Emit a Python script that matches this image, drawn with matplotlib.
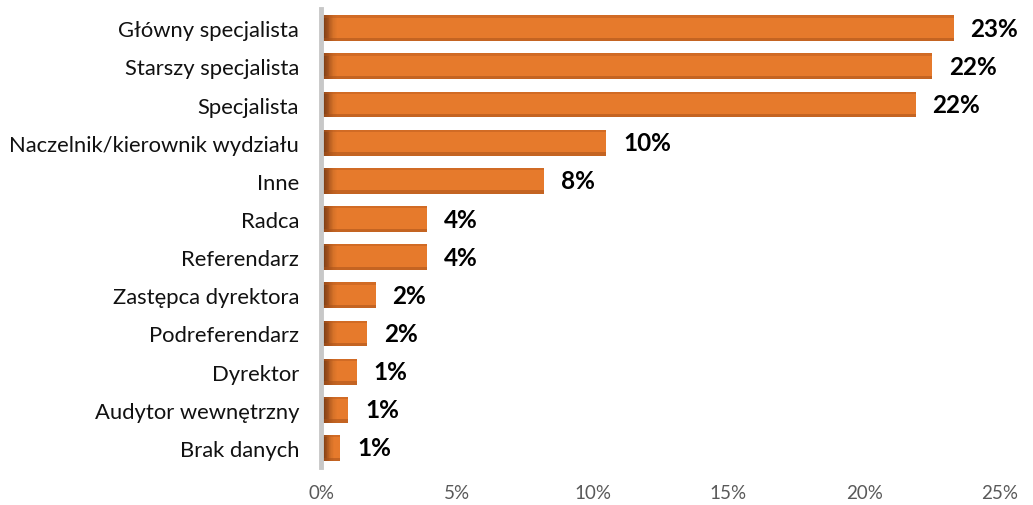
import matplotlib.pyplot as plt
import numpy as np
from matplotlib.colors import LinearSegmentedColormap
from matplotlib.patches import Rectangle

plt.rcParams['font.family'] = ['Lato', 'DejaVu Sans']

categories = [
    "Główny specjalista",
    "Starszy specjalista",
    "Specjalista",
    "Naczelnik/kierownik wydziału",
    "Inne",
    "Radca",
    "Referendarz",
    "Zastępca dyrektora",
    "Podreferendarz",
    "Dyrektor",
    "Audytor wewnętrzny",
    "Brak danych",
]
shares = [23.3, 22.5, 21.9, 10.5, 8.2, 3.9, 3.9, 2.0, 1.7, 1.3, 1.0, 0.7]
x_ticks = [0, 5, 10, 15, 20, 25]

BAR_H = 0.68
ORANGE = "#E67A2C"

fig = plt.figure(figsize=(10.33, 5.06), dpi=100)
ax = fig.add_axes([0.311, 0.075, 0.657, 0.905])

# dark-to-orange ramp used for the shaded left end of every bar
ramp = LinearSegmentedColormap.from_list(
    "bar", [(0, "#6E3611"), (0.35, "#9A4C1A"), (0.7, "#D06E27"), (1, ORANGE)])
N_STEPS = 20
for i, v in enumerate(shares):
    y0 = i - BAR_H / 2
    ax.add_patch(Rectangle((0, y0), v, BAR_H, facecolor=ORANGE,
                           edgecolor="none", zorder=2))
    fade_w = min(0.6, v * 0.7)
    step = fade_w / N_STEPS
    for k in range(N_STEPS):
        ax.add_patch(Rectangle((k * step, y0), step * 1.05, BAR_H,
                               facecolor=ramp(k / (N_STEPS - 1)),
                               edgecolor="none", zorder=3))
    # top and bottom rim shading
    ax.add_patch(Rectangle((0, y0), v, 0.06, facecolor="#B85A1E",
                           alpha=0.45, edgecolor="none", zorder=4))
    ax.add_patch(Rectangle((0, y0 + BAR_H - 0.09), v, 0.09, facecolor="#A8521B",
                           alpha=0.55, edgecolor="none", zorder=4))
    ax.text(v + 0.62, i, f"{round(v)}%", va="center", ha="left",
            fontsize=17.5, fontweight="bold", color="black")

ax.set_xlim(0, 25)
ax.set_ylim(len(categories) - 0.5, -0.5)
ax.set_yticks(range(len(categories)))
ax.set_yticklabels(categories, fontsize=15.8, color="#111111")
ax.set_xticks(x_ticks)
ax.set_xticklabels([f"{t}%" for t in x_ticks], fontsize=13.5, color="#595959")
ax.tick_params(axis="both", length=0)
ax.tick_params(axis="y", pad=16)
ax.tick_params(axis="x", pad=12)

for side in ("top", "right", "bottom"):
    ax.spines[side].set_visible(False)
ax.spines["left"].set_color("#C8C8C8")
ax.spines["left"].set_linewidth(3.5)
ax.spines["left"].set_zorder(5)

fig.savefig("out.png", dpi=100)
